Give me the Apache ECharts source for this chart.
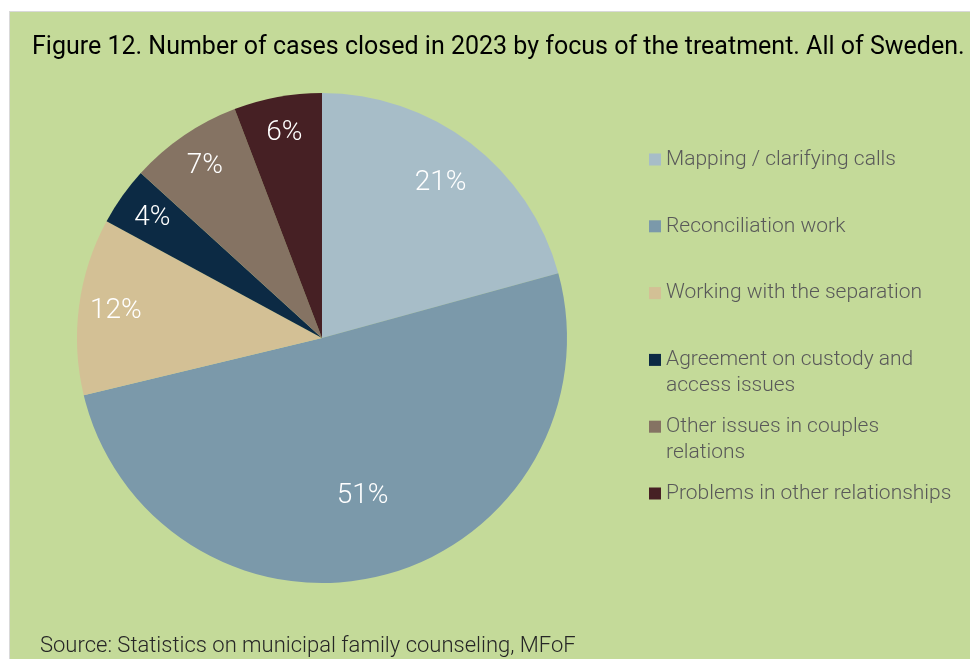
<!DOCTYPE html>
<html>
    <head>
        <meta charset="utf-8">
        <script src="https://cdn.jsdelivr.net/npm/echarts@6/dist/echarts.min.js"></script>
    </head>
    <body>
        <style>
            html, body {
                width: 100%;
                height: 100%;
                margin: 0;
                background: #fff;
            }
            #main {
                position: absolute;
                left: 9px;
                top: 11px;
                width: 961px;
                height: 648px;
                border-top: 1px solid #d9d9d9;
                border-left: 1px solid #d9d9d9;
                background: #c4da99;
            }
        </style>
        <div id="main"></div>
        <script>
            // focus of the treatment, share of closed cases (%)
            var categories = [
                'Mapping / clarifying calls',
                'Reconciliation work',
                'Working with the separation',
                'Agreement on custody and\naccess issues',
                'Other issues in couples\nrelations',
                'Problems in other relationships'
            ];
            var shares = [20.75, 50.5, 11.65, 3.85, 7.45, 5.8];
            var colors = ['#a7bdc8', '#7b99aa', '#d3c095', '#0c2a44', '#857363', '#462024'];

            var chart = echarts.init(document.getElementById('main'));

            var font = 'Roboto';
            var pieData = categories.map(function (name, i) {
                return { name: name, value: shares[i] };
            });

            var labelStyle = {
                show: true,
                position: 'inside',
                color: '#fff',
                fontFamily: font,
                fontWeight: 300,
                fontSize: 28,
                formatter: function (p) {
                    return Math.round(p.value) + '%';
                }
            };

            // one legend per entry so the rows keep an even pitch,
            // wrapped entries get a blank first line so the swatch sits on line one
            var legends = categories.map(function (name, i) {
                var lines = name.split('\n').length;
                var cy = 147.5 + i * 66.8;
                return {
                    orient: 'vertical',
                    left: 639,
                    top: lines > 1 ? cy - 39 : cy - 13,
                    padding: 0,
                    icon: 'rect',
                    itemWidth: 12,
                    itemHeight: 12,
                    itemGap: 5,
                    selectedMode: false,
                    data: [name],
                    formatter: function (n) {
                        return lines > 1 ? '{s| }\n' + n : n;
                    },
                    textStyle: {
                        color: '#595959',
                        fontFamily: font,
                        fontWeight: 300,
                        fontSize: 21,
                        lineHeight: 26,
                        rich: {
                            s: { lineHeight: 26, fontSize: 21 }
                        }
                    }
                };
            });

            chart.setOption({
                color: colors,
                animation: false,
                title: [
                    {
                        text: 'Figure 12. Number of cases closed in 2023 by focus of the treatment. All of Sweden.',
                        left: 22,
                        top: 23,
                        padding: 0,
                        textStyle: {
                            color: '#000',
                            fontFamily: font,
                            fontWeight: 'normal',
                            fontSize: 25
                        }
                    },
                    {
                        text: 'Source: Statistics on municipal family counseling, MFoF',
                        left: 30,
                        top: 623,
                        padding: 0,
                        textStyle: {
                            color: '#262626',
                            fontFamily: font,
                            fontWeight: 300,
                            fontSize: 22
                        }
                    }
                ],
                legend: legends,
                series: [
                    {
                        type: 'pie',
                        center: [312, 326],
                        radius: [0, 245],
                        startAngle: 90,
                        silent: true,
                        label: { show: false },
                        labelLine: { show: false },
                        data: pieData
                    },
                    {
                        // labels for the smaller slices, set out near the rim
                        type: 'pie',
                        center: [312, 326],
                        radius: [165, 245],
                        startAngle: 90,
                        silent: true,
                        itemStyle: { color: 'transparent' },
                        label: labelStyle,
                        labelLine: { show: false },
                        data: pieData.map(function (d, i) {
                            return { name: d.name, value: d.value, label: { show: i > 1 } };
                        })
                    },
                    {
                        // the two big slices carry their labels further in
                        type: 'pie',
                        center: [312, 326],
                        radius: [140, 245],
                        startAngle: 90,
                        silent: true,
                        itemStyle: { color: 'transparent' },
                        label: labelStyle,
                        labelLine: { show: false },
                        data: pieData.map(function (d, i) {
                            return { name: d.name, value: d.value, label: { show: i === 0 } };
                        })
                    },
                    {
                        type: 'pie',
                        center: [312, 326],
                        radius: [75, 245],
                        startAngle: 90,
                        silent: true,
                        itemStyle: { color: 'transparent' },
                        label: labelStyle,
                        labelLine: { show: false },
                        data: pieData.map(function (d, i) {
                            return { name: d.name, value: d.value, label: { show: i === 1 } };
                        })
                    }
                ]
            });
        </script>
    </body>
</html>
